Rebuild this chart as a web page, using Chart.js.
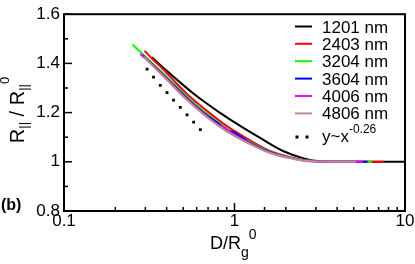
<!DOCTYPE html>
<html><head><meta charset="utf-8">
<script src="https://cdn.jsdelivr.net/npm/chart.js@4.4.0/dist/chart.umd.min.js"></script>
<style>html,body{margin:0;padding:0;background:#fff}</style>
</head><body>
<canvas id="c" width="415" height="264"></canvas>
<script>
// ---- data ----
const seriesLabels = ['1201 nm','2403 nm','3204 nm','3604 nm','4006 nm','4806 nm'];
const seriesColors = ['#000000','#ff0000','#00ff00','#0000ff','#ff00ff','#bc8f8f'];

const x1201 = [0.328,0.393,0.481,0.564,0.675,0.827,1.085,1.422,1.942,2.546,3.206,4.203,10];
const y1201 = [1.425,1.375,1.322,1.282,1.241,1.198,1.145,1.096,1.043,1.014,1.002,1.000,1.000];

const x2403 = [0.297,0.328,0.393,0.515,0.675,0.885,1.242,1.629,2.136,2.799,3.670,7.52];
const y2403 = [1.451,1.420,1.367,1.282,1.212,1.149,1.086,1.043,1.018,1.004,1.000,1.000];

const x3204 = [0.252,0.280,0.321,0.393,0.515,0.675,0.885,1.242,1.629,2.136,2.799,3.670,6.40];
const y3204 = [1.477,1.447,1.408,1.351,1.271,1.200,1.139,1.078,1.041,1.018,1.004,1.000,1.000];

const x3604 = [0.289,0.321,0.393,0.515,0.675,0.827,0.897,0.973,1.242,1.629,2.136,2.799,3.670,6.03];
const y3604 = [1.434,1.404,1.345,1.265,1.194,1.149,1.127,1.122,1.075,1.039,1.016,1.003,1.000,1.000];

const x4006 = [0.280,0.321,0.393,0.515,0.675,0.827,0.885,0.947,1.242,1.629,2.136,2.799,5.64];
const y4006 = [1.438,1.402,1.343,1.261,1.190,1.145,1.137,1.120,1.073,1.037,1.016,1.002,1.000];

const x4806 = [0.2955,0.321,0.393,0.515,0.675,0.885,1.242,1.629,2.136,2.799,5.15];
const y4806 = [1.427,1.400,1.339,1.257,1.186,1.127,1.071,1.035,1.014,1.002,1.000];

const xPow = [0.307,0.335,0.367,0.402,0.439,0.481,0.527,0.576,0.631];
const yPow = [1.377,1.344,1.311,1.281,1.251,1.221,1.191,1.161,1.131];

const xTickLabels = ['0.1','1','10'];
const yMin = 0.8, yMax = 1.6, xMin = 0.1, xMax = 10;

// ---- build datasets ----
const seriesX = [x1201,x2403,x3204,x3604,x4006,x4806];
const seriesY = [y1201,y2403,y3204,y3604,y4006,y4806];
const pts = (xs, ys) => xs.map((v,i)=>({x:v, y:ys[i]}));

const datasets = seriesLabels.map((lab,i)=>({
  label: lab,
  data: pts(seriesX[i], seriesY[i]),
  showLine: true,
  borderColor: seriesColors[i],
  backgroundColor: seriesColors[i],
  borderWidth: 2,
  pointRadius: 0,
  cubicInterpolationMode: 'monotone',
  order: 10 - i
}));
datasets.push({
  label: 'y~x^-0.26',
  data: pts(xPow, yPow),
  showLine: false,
  pointStyle: 'rect',
  pointRadius: 2,
  pointBorderWidth: 0,
  backgroundColor: '#000',
  borderColor: '#000',
  order: 1
});

const FONT = '"Liberation Sans", Arial, Helvetica, sans-serif';

function richWidth(ctx, parts){
  let w = 0;
  parts.forEach(p=>{ ctx.font = (p.b?'bold ':'') + p.s + 'px ' + FONT; w += ctx.measureText(p.t).width; });
  return w;
}
function richDraw(ctx, parts, x, y){
  let cx = x;
  parts.forEach(p=>{
    ctx.font = (p.b?'bold ':'') + p.s + 'px ' + FONT;
    ctx.fillText(p.t, cx, y + (p.dy||0));
    cx += ctx.measureText(p.t).width;
  });
}

const decor = {
  id: 'decor',
  afterDatasetsDraw(chart){
    const {ctx, chartArea:a, scales:{x, y}} = chart;
    ctx.save();
    ctx.strokeStyle = '#000';
    ctx.fillStyle = '#000';
    // frame
    ctx.lineWidth = 2;
    ctx.strokeRect(a.left, a.top, a.right - a.left, a.bottom - a.top);
    // inward ticks
    ctx.lineWidth = 1.5;
    y.ticks.forEach(t=>{
      const py = y.getPixelForValue(t.value);
      const major = Math.round(t.value*10) % 2 === 0;
      ctx.beginPath(); ctx.moveTo(a.left, py); ctx.lineTo(a.left + (major?8:4), py); ctx.stroke();
    });
    x.ticks.forEach(t=>{
      const px = x.getPixelForValue(t.value);
      const lg = Math.log10(t.value);
      const major = Math.abs(lg - Math.round(lg)) < 1e-6;
      ctx.beginPath(); ctx.moveTo(px, a.bottom); ctx.lineTo(px, a.bottom - (major?8:4)); ctx.stroke();
    });
    ctx.textBaseline = 'alphabetic';
    ctx.textAlign = 'left';
    // x title  D/Rg^0
    richDraw(ctx, [{t:'D/R', s:18},{t:'g', s:14, dy:8},{t:'0', s:14, dy:-10}], 210, 248.7);
    // y title  R|| / R||^0 (rotated)
    ctx.save();
    ctx.translate(23.5, 110);
    ctx.rotate(-Math.PI/2);
    const yParts = [{t:'R', s:20},{t:'||', s:13, dy:4},{t:' / R', s:20},{t:'||', s:13, dy:4},{t:'0', s:13, dy:-14.5}];
    richDraw(ctx, yParts, -richWidth(ctx, yParts)/2, 0);
    ctx.restore();
    // panel label
    richDraw(ctx, [{t:'(b)', s:16, b:true}], 1, 210);
    // legend
    const rowY = [26.5, 43.8, 61.2, 78.6, 96, 113.4];
    seriesLabels.forEach((lab,i)=>{
      ctx.strokeStyle = seriesColors[i];
      ctx.lineWidth = 2;
      ctx.beginPath(); ctx.moveTo(295, rowY[i]); ctx.lineTo(312, rowY[i]); ctx.stroke();
      ctx.font = '17px ' + FONT;
      ctx.fillText(lab, 322, rowY[i] + 6);
    });
    ctx.fillRect(295.5, 135.5, 3, 3);
    ctx.fillRect(305.5, 135.5, 3, 3);
    richDraw(ctx, [{t:'y~x', s:17},{t:'-0.26', s:12, dy:-8.5}], 322, 141.5);
    ctx.restore();
  }
};

new Chart(document.getElementById('c'), {
  type: 'scatter',
  data: { datasets },
  options: {
    responsive: false,
    animation: false,
    devicePixelRatio: 1,
    layout: { padding: { top: 7, right: 10, left: 0, bottom: 0 } },
    plugins: { legend: { display: false }, tooltip: { enabled: false } },
    scales: {
      x: {
        type: 'logarithmic', min: xMin, max: xMax,
        grid: { display: false, drawTicks: false },
        border: { display: false },
        ticks: {
          autoSkip: false, maxRotation: 0, padding: 0, color: '#000',
          font: { family: FONT, size: 17 },
          callback: (v) => {
            const lg = Math.log10(v);
            if (Math.abs(lg - Math.round(lg)) > 1e-6) return '';
            return xTickLabels[Math.round(lg) + 1];
          }
        },
        afterFit: s => { s.height = 53; }
      },
      y: {
        min: yMin, max: yMax,
        grid: { display: false, drawTicks: false },
        border: { display: false },
        ticks: {
          stepSize: 0.1, padding: 4, color: '#000',
          font: { family: FONT, size: 17 },
          callback: (v) => (Math.round(v*10) % 2 === 0) ? String(Math.round(v*10)/10) : ''
        },
        afterFit: s => { s.width = 64; }
      }
    }
  },
  plugins: [decor]
});
</script>
</body></html>
